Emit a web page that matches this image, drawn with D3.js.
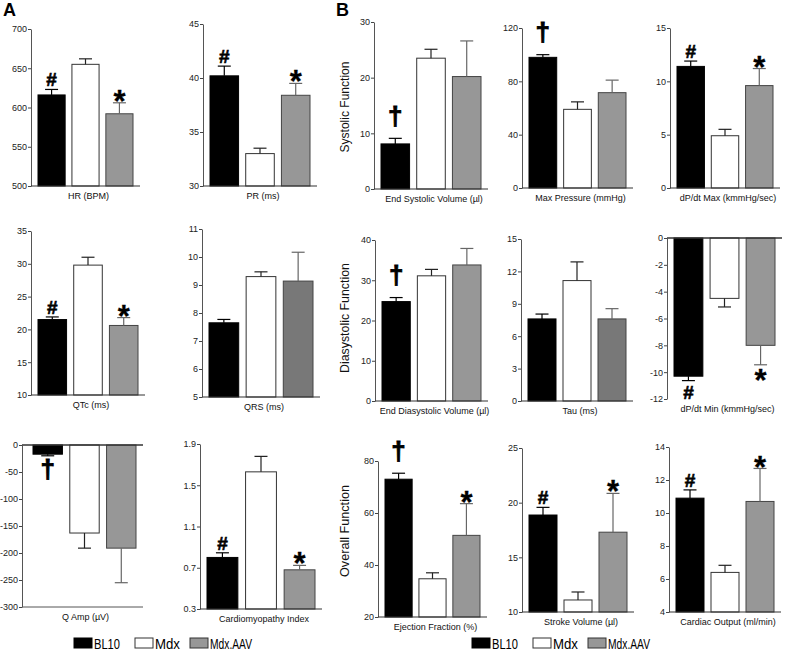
<!DOCTYPE html>
<html>
<head>
<meta charset="utf-8">
<script src="https://cdn.jsdelivr.net/npm/d3@7"></script>
<style>
  body { margin: 0; background: #fff; }
  text { font-family: "Liberation Sans", Arial, sans-serif; }
</style>
</head>
<body>
<svg id="fig" width="787" height="661"></svg>
<script>
/* data */
const groups = ["BL10", "Mdx", "Mdx.AAV"];

const panelLabels = [
  "HR (BPM)", "PR (ms)", "End Systolic Volume (µl)", "Max Pressure (mmHg)", "dP/dt Max (kmmHg/sec)",
  "QTc (ms)", "QRS (ms)", "End Diasystolic Volume (µl)", "Tau (ms)", "dP/dt Min (kmmHg/sec)",
  "Q Amp (µV)", "Cardiomyopathy Index", "Ejection Fraction (%)", "Stroke Volume (µl)", "Cardiac Output (ml/min)"
];

const means = [
  [616, 655, 592], [40.2, 33.0, 38.4], [8.1, 23.5, 20.2], [98, 59, 71.5], [11.4, 4.9, 9.6],
  [21.5, 29.8, 20.6], [7.65, 9.3, 9.14], [24.7, 31.1, 33.8], [7.6, 11.15, 7.6], [-10.3, -4.5, -8.0],
  [-17, -163, -191], [0.80, 1.63, 0.68], [73, 34.7, 51.4], [18.87, 11.1, 17.3], [10.9, 6.4, 10.7]
];

const sems = [
  [7, 7, 14], [0.9, 0.5, 1.1], [1.0, 1.6, 6.4], [2, 5.6, 9.4], [0.5, 0.6, 1.6],
  [0.4, 1.2, 1.2], [0.12, 0.17, 1.03], [1.0, 1.6, 4.1], [0.45, 1.73, 0.95], [0.33, 0.64, 1.45],
  [3, 28, 64], [0.045, 0.15, 0.043], [2.3, 2.3, 12.2], [0.7, 0.73, 3.55], [0.5, 0.43, 2.0]
];

const marks = [
  ["#", "", "*"], ["#", "", "*"], ["†", "", ""], ["†", "", ""], ["#", "", "*"],
  ["#", "", "*"], ["", "", ""], ["†", "", ""], ["", "", ""], ["#", "", "*"],
  ["†", "", ""], ["#", "", "*"], ["†", "", "*"], ["#", "", "*"], ["#", "", "*"]
];

const yTicks = [
  [500, 550, 600, 650, 700], [30, 35, 40, 45], [0, 10, 20, 30], [0, 40, 80, 120], [0, 5, 10, 15],
  [10, 15, 20, 25, 30, 35], [5, 6, 7, 8, 9, 10, 11], [0, 10, 20, 30, 40], [0, 3, 6, 9, 12, 15], [0, -2, -4, -6, -8, -10, -12],
  [0, -50, -100, -150, -200, -250, -300], [0.3, 0.7, 1.1, 1.5, 1.9], [20, 40, 60, 80], [10, 15, 20, 25], [4, 6, 8, 10, 12, 14]
];

const rowTitles = ["Systolic Function", "Diasystolic Function", "Overall Function"];

/* layout: axis x, axis end, top y, bottom y for each panel */
const frames = [
  [31, 140, 29, 186], [203, 317, 24, 186], [374, 488, 22, 189], [522, 633, 28, 188], [670, 780, 28, 188],
  [31, 145, 231, 395], [202, 320, 229, 397], [375, 488, 240, 401], [521, 633, 239, 401], [667, 782, 238, 399],
  [22, 143, 445, 607], [200, 322, 444, 609], [378, 487, 461, 617], [522, 634, 448, 612], [669, 781, 447, 612]
];
const rowTitleY = [107, 318, 531];
const rowTitleLen = [91, 110, 92];

const svg = d3.select("#fig");

const grayFor = i => (i === 6 || i === 8) ? "#787878" : "#979797";
const fills = i => ["#000", "#fff", grayFor(i)];
const strokes = ["#000", "#333", "#444"];
const errColors = ["#000", "#222", "#666"];

/* glyph metrics (fraction of font size, relative to baseline) */
const glyph = {
  "#": { size: 19, top: -0.71, bottom: 0, gapUp: 3, gapDown: 5, sw: 0.6 },
  "*": { size: 31, top: -0.73, bottom: -0.39, gapUp: 3, gapDown: 4, sw: 0.3 },
  "†": { size: 26, top: -0.73, bottom: 0.2, gapUp: 8, gapDown: 3, sw: 0.9 }
};

frames.forEach(([x0, x1, yt, yb], i) => {
  const g = svg.append("g");
  const dom = d3.extent(yTicks[i]);
  const y = d3.scaleLinear().domain(dom).range([yb, yt]);
  const inset = i === 10 ? 11 : 7;
  const x = d3.scaleBand().domain(groups).range([x0 + inset, x1 - 7]).paddingInner(0.2).paddingOuter(0);
  const negative = dom[1] <= 0;
  const base = negative ? y(0) : y(dom[0]);

  // bars
  g.selectAll("rect.bar")
    .data(groups)
    .enter()
    .append("rect")
    .attr("class", "bar")
    .attr("x", d => x(d))
    .attr("width", x.bandwidth())
    .attr("y", (d, j) => Math.min(base, y(means[i][j])))
    .attr("height", (d, j) => Math.abs(y(means[i][j]) - base))
    .style("fill", (d, j) => fills(i)[j])
    .style("stroke", (d, j) => strokes[j])
    .style("stroke-width", 1);

  // error bars (outer half only)
  groups.forEach((d, j) => {
    const m = means[i][j];
    const e = m < 0 ? m - sems[i][j] : m + sems[i][j];
    const cx = x(d) + x.bandwidth() / 2;
    g.append("line")
      .attr("x1", cx).attr("x2", cx)
      .attr("y1", y(m)).attr("y2", y(e))
      .style("stroke", errColors[j]).style("stroke-width", 1.2);
    g.append("line")
      .attr("x1", cx - 6.5).attr("x2", cx + 6.5)
      .attr("y1", y(e)).attr("y2", y(e))
      .style("stroke", errColors[j]).style("stroke-width", 1.2);

    const mk = marks[i][j];
    if (mk) {
      const gm = glyph[mk];
      const ey = y(e);
      const by = m < 0
        ? ey + gm.gapDown - gm.top * gm.size
        : ey - gm.gapUp - gm.bottom * gm.size;
      g.append("text")
        .attr("x", cx)
        .attr("y", by)
        .attr("text-anchor", "middle")
        .style("font-size", gm.size + "px")
        .style("font-weight", "bold")
        .style("fill", "#000")
        .style("stroke", "#000")
        .style("stroke-width", gm.sw)
        .text(mk);
    }
  });

  // y axis
  const ax = g.append("g")
    .attr("transform", `translate(${x0},0)`)
    .call(d3.axisLeft(y).tickValues(yTicks[i]).tickSize(3).tickSizeOuter(0).tickPadding(1)
      .tickFormat(d => d));
  ax.select(".domain").style("stroke", "#555");
  ax.selectAll(".tick line").style("stroke", "#444");
  ax.selectAll(".tick text").style("font-size", "9px").style("fill", "#222")
    .style("font-family", "'Liberation Sans', Arial, sans-serif");

  // baseline
  g.append("line")
    .attr("x1", x0).attr("x2", x1)
    .attr("y1", base).attr("y2", base)
    .style("stroke", "#333").style("stroke-width", negative ? 1.6 : 1.2);
  if (i === 10) {
    g.append("line")
      .attr("x1", x0).attr("x2", x1)
      .attr("y1", yb).attr("y2", yb)
      .style("stroke", "#555").style("stroke-width", 1);
  }

  // category label
  g.append("text")
    .attr("x", (x0 + x1) / 2 + 3)
    .attr("y", yb + 13)
    .attr("text-anchor", "middle")
    .style("font-size", "9px")
    .style("fill", "#111")
    .text(panelLabels[i]);
});

// row titles for panel B
rowTitles.forEach((t, r) => {
  svg.append("text")
    .attr("transform", `translate(349,${rowTitleY[r]}) rotate(-90)`)
    .attr("text-anchor", "middle")
    .attr("textLength", rowTitleLen[r])
    .attr("lengthAdjust", "spacingAndGlyphs")
    .style("font-size", "13.5px")
    .style("fill", "#111")
    .text(t);
});

// panel letters
svg.append("text").attr("x", 3).attr("y", 16)
  .style("font-size", "18px").style("font-weight", "bold").text("A");
svg.append("text").attr("x", 336).attr("y", 16)
  .style("font-size", "18px").style("font-weight", "bold").text("B");

// legends
const legendStarts = [74, 472];
const legendOffsets = [0, 61, 116];
const legendLen = [26, 25, 42];
legendStarts.forEach(lx => {
  groups.forEach((gname, j) => {
    const gx = lx + legendOffsets[j];
    svg.append("rect")
      .attr("x", gx).attr("y", 638)
      .attr("width", 18).attr("height", 10)
      .style("fill", fills(0)[j])
      .style("stroke", j === 0 ? "#000" : "#333");
    svg.append("text")
      .attr("x", gx + 20).attr("y", 648.5)
      .attr("textLength", legendLen[j])
      .attr("lengthAdjust", "spacingAndGlyphs")
      .style("font-size", "15.5px")
      .style("fill", "#000")
      .text(gname);
  });
});
</script>
</body>
</html>
